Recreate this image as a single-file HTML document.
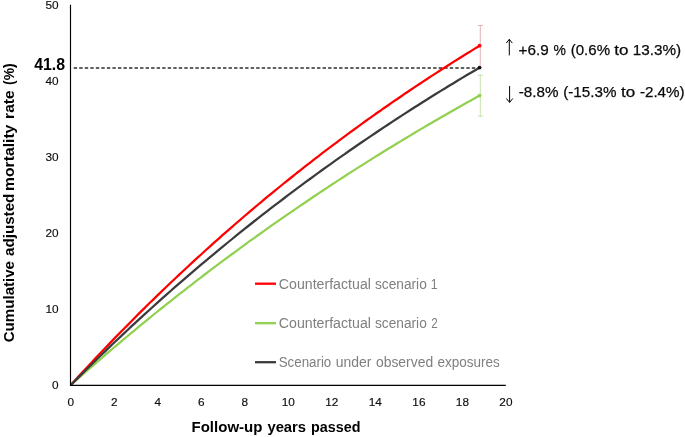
<!DOCTYPE html>
<html lang="en">
<head>
<meta charset="utf-8">
<title>Cumulative adjusted mortality rate</title>
<style>
html,body{margin:0;padding:0;background:#fff;}
body{width:685px;height:437px;overflow:hidden;}
svg{display:block;font-family:"Liberation Sans", sans-serif;}
</style>
</head>
<body>
<svg width="685" height="437" viewBox="0 0 685 437">
<rect width="685" height="437" fill="#fff"/>
<line x1="73.7" y1="68" x2="479.6" y2="68" stroke="#2e2e2e" stroke-width="1.3" stroke-dasharray="3.4 2.13"/>
<path d="M480.3 25.4 V65.7 M477.7 25.4 H482.9" stroke="#d9929c" stroke-width="0.7" fill="none"/>
<path d="M480.3 75.2 V116.2 M477.7 75.2 H482.9 M477.7 116.2 H482.9" stroke="#acd68a" stroke-width="0.7" fill="none"/>
<defs><clipPath id="plot"><rect x="70.5" y="0" width="420" height="385.3"/></clipPath></defs>
<g clip-path="url(#plot)">
<polyline points="70.5,385.3 74.9,381.4 79.2,377.6 83.6,373.7 87.9,369.9 92.3,366.1 96.6,362.4 101.0,358.6 105.3,354.9 109.7,351.2 114.0,347.5 118.4,343.8 122.7,340.1 127.1,336.5 131.4,332.9 135.8,329.3 140.1,325.7 144.5,322.1 148.8,318.6 153.2,315.0 157.5,311.5 161.9,308.0 166.2,304.5 170.6,301.1 174.9,297.6 179.3,294.2 183.7,290.8 188.0,287.4 192.4,284.1 196.7,280.7 201.1,277.4 205.4,274.0 209.8,270.7 214.1,267.4 218.5,264.2 222.8,260.9 227.2,257.7 231.5,254.5 235.9,251.3 240.2,248.1 244.6,244.9 248.9,241.7 253.3,238.6 257.6,235.5 262.0,232.4 266.3,229.3 270.7,226.2 275.0,223.1 279.4,220.1 283.7,217.1 288.1,214.1 292.5,211.1 296.8,208.1 301.2,205.1 305.5,202.2 309.9,199.2 314.2,196.3 318.6,193.4 322.9,190.5 327.3,187.6 331.6,184.7 336.0,181.9 340.3,179.1 344.7,176.2 349.0,173.4 353.4,170.6 357.7,167.9 362.1,165.1 366.4,162.4 370.8,159.6 375.1,156.9 379.5,154.2 383.8,151.5 388.2,148.8 392.5,146.2 396.9,143.5 401.3,140.9 405.6,138.2 410.0,135.6 414.3,133.0 418.7,130.4 423.0,127.9 427.4,125.3 431.7,122.8 436.1,120.2 440.4,117.7 444.8,115.2 449.1,112.7 453.5,110.2 457.8,107.7 462.2,105.3 466.5,102.8 470.9,100.4 475.2,98.0 479.6,95.6" fill="none" stroke="#92d050" stroke-width="2.25" stroke-linejoin="round" stroke-linecap="butt"/>
<polyline points="70.5,385.3 74.9,380.5 79.2,375.8 83.6,371.1 87.9,366.4 92.3,361.7 96.6,357.1 101.0,352.5 105.3,348.0 109.7,343.4 114.0,338.9 118.4,334.4 122.7,330.0 127.1,325.6 131.4,321.2 135.8,316.8 140.1,312.4 144.5,308.1 148.8,303.8 153.2,299.6 157.5,295.4 161.9,291.1 166.2,287.0 170.6,282.8 174.9,278.7 179.3,274.6 183.7,270.5 188.0,266.5 192.4,262.4 196.7,258.4 201.1,254.5 205.4,250.5 209.8,246.6 214.1,242.7 218.5,238.8 222.8,234.9 227.2,231.1 231.5,227.3 235.9,223.5 240.2,219.8 244.6,216.0 248.9,212.3 253.3,208.7 257.6,205.0 262.0,201.4 266.3,197.7 270.7,194.1 275.0,190.6 279.4,187.0 283.7,183.5 288.1,180.0 292.5,176.5 296.8,173.0 301.2,169.6 305.5,166.2 309.9,162.8 314.2,159.4 318.6,156.1 322.9,152.7 327.3,149.4 331.6,146.1 336.0,142.9 340.3,139.6 344.7,136.4 349.0,133.2 353.4,130.0 357.7,126.8 362.1,123.7 366.4,120.5 370.8,117.4 375.1,114.3 379.5,111.3 383.8,108.2 388.2,105.2 392.5,102.2 396.9,99.2 401.3,96.2 405.6,93.2 410.0,90.3 414.3,87.4 418.7,84.5 423.0,81.6 427.4,78.7 431.7,75.9 436.1,73.1 440.4,70.3 444.8,67.5 449.1,64.7 453.5,61.9 457.8,59.2 462.2,56.5 466.5,53.8 470.9,51.1 475.2,48.4 479.6,45.7" fill="none" stroke="#ff0000" stroke-width="2.25" stroke-linejoin="round" stroke-linecap="butt"/>
<polyline points="70.5,385.3 74.9,380.9 79.2,376.6 83.6,372.3 87.9,368.0 92.3,363.7 96.6,359.5 101.0,355.3 105.3,351.1 109.7,346.9 114.0,342.8 118.4,338.7 122.7,334.6 127.1,330.5 131.4,326.4 135.8,322.4 140.1,318.4 144.5,314.4 148.8,310.5 153.2,306.5 157.5,302.6 161.9,298.7 166.2,294.9 170.6,291.0 174.9,287.2 179.3,283.4 183.7,279.6 188.0,275.9 192.4,272.1 196.7,268.4 201.1,264.7 205.4,261.1 209.8,257.4 214.1,253.8 218.5,250.2 222.8,246.6 227.2,243.0 231.5,239.5 235.9,235.9 240.2,232.4 244.6,228.9 248.9,225.5 253.3,222.0 257.6,218.6 262.0,215.2 266.3,211.8 270.7,208.4 275.0,205.1 279.4,201.8 283.7,198.5 288.1,195.2 292.5,191.9 296.8,188.6 301.2,185.4 305.5,182.2 309.9,179.0 314.2,175.8 318.6,172.7 322.9,169.5 327.3,166.4 331.6,163.3 336.0,160.2 340.3,157.1 344.7,154.1 349.0,151.0 353.4,148.0 357.7,145.0 362.1,142.0 366.4,139.1 370.8,136.1 375.1,133.2 379.5,130.3 383.8,127.4 388.2,124.5 392.5,121.6 396.9,118.8 401.3,115.9 405.6,113.1 410.0,110.3 414.3,107.5 418.7,104.8 423.0,102.0 427.4,99.3 431.7,96.5 436.1,93.8 440.4,91.1 444.8,88.5 449.1,85.8 453.5,83.2 457.8,80.5 462.2,77.9 466.5,75.3 470.9,72.7 475.2,70.2 479.6,67.6" fill="none" stroke="#3b3b3b" stroke-width="2.25" stroke-linejoin="round" stroke-linecap="butt"/>
</g>
<circle cx="479.6" cy="45.7" r="1.9" fill="#ff0000"/>
<circle cx="479.6" cy="95.6" r="1.9" fill="#92d050"/>
<circle cx="479.6" cy="67.6" r="1.9" fill="#111"/>
<path d="M70.5 4.8 V385.35 H505.8" fill="none" stroke="#000" stroke-width="1.15"/>
<g font-size="11.8" fill="#0d0d0d" stroke="#0d0d0d" stroke-width="0.15" text-anchor="end">
<text x="58.5" y="389.3">0</text>
<text x="58.5" y="313.3">10</text>
<text x="58.5" y="237.3">20</text>
<text x="58.5" y="161.3">30</text>
<text x="58.5" y="85.3">40</text>
<text x="58.5" y="9.3">50</text>
</g>
<g font-size="11.8" fill="#0d0d0d" stroke="#0d0d0d" stroke-width="0.15" text-anchor="middle">
<text x="70.7" y="406.4">0</text>
<text x="114.2" y="406.4">2</text>
<text x="157.7" y="406.4">4</text>
<text x="201.3" y="406.4">6</text>
<text x="244.8" y="406.4">8</text>
<text x="288.3" y="406.4">10</text>
<text x="331.8" y="406.4">12</text>
<text x="375.3" y="406.4">14</text>
<text x="418.9" y="406.4">16</text>
<text x="462.4" y="406.4">18</text>
<text x="505.9" y="406.4">20</text>
</g>
<text y="69.5" font-size="15.6" fill="#000" font-weight="bold"><tspan x="34.20" textLength="30.92" lengthAdjust="spacingAndGlyphs">41.8</tspan></text>
<text y="431.8" font-size="14.6" fill="#000" font-weight="bold"><tspan x="191.50" textLength="70.96" lengthAdjust="spacingAndGlyphs">Follow-up</tspan> <tspan x="267.40" textLength="38.72" lengthAdjust="spacingAndGlyphs">years</tspan> <tspan x="311.05" textLength="49.45" lengthAdjust="spacingAndGlyphs">passed</tspan></text>
<text transform="translate(13.6 342.0) rotate(-90)" y="0" font-size="14.6" fill="#000" font-weight="bold"><tspan x="-0.30" textLength="81.32" lengthAdjust="spacingAndGlyphs">Cumulative</tspan> <tspan x="86.05" textLength="62.30" lengthAdjust="spacingAndGlyphs">adjusted</tspan> <tspan x="151.10" textLength="66.25" lengthAdjust="spacingAndGlyphs">mortality</tspan> <tspan x="223.10" textLength="28.52" lengthAdjust="spacingAndGlyphs">rate</tspan> <tspan x="257.10" textLength="21.57" lengthAdjust="spacingAndGlyphs">(%)</tspan></text>
<line x1="255" y1="283.7" x2="276" y2="283.7" stroke="#ff0000" stroke-width="2.3"/>
<text y="288.6" font-size="14" fill="#7f7f7f"><tspan x="278.80" textLength="92.11" lengthAdjust="spacingAndGlyphs">Counterfactual</tspan> <tspan x="375.00" textLength="51.79" lengthAdjust="spacingAndGlyphs">scenario</tspan> <tspan x="430.81" textLength="6.90" lengthAdjust="spacingAndGlyphs">1</tspan></text>
<line x1="255" y1="323.2" x2="276" y2="323.2" stroke="#92d050" stroke-width="2.3"/>
<text y="327.7" font-size="14" fill="#7f7f7f"><tspan x="278.80" textLength="92.11" lengthAdjust="spacingAndGlyphs">Counterfactual</tspan> <tspan x="375.00" textLength="51.79" lengthAdjust="spacingAndGlyphs">scenario</tspan> <tspan x="431.20" textLength="6.52" lengthAdjust="spacingAndGlyphs">2</tspan></text>
<line x1="255" y1="362.2" x2="276" y2="362.2" stroke="#3b3b3b" stroke-width="2.3"/>
<text y="366.6" font-size="14" fill="#7f7f7f"><tspan x="278.70" textLength="52.60" lengthAdjust="spacingAndGlyphs">Scenario</tspan> <tspan x="335.70" textLength="35.66" lengthAdjust="spacingAndGlyphs">under</tspan> <tspan x="375.90" textLength="57.28" lengthAdjust="spacingAndGlyphs">observed</tspan> <tspan x="437.45" textLength="62.25" lengthAdjust="spacingAndGlyphs">exposures</tspan></text>
<g stroke="#000" stroke-width="1" fill="none">
<path d="M509.3 55.4 V39.4 M506.3 43.1 L509.3 39.3 L512.3 43.1"/>
<path d="M509.6 86.1 V102.3 M506.4 98.5 L509.6 102.4 L512.8 98.5"/>
</g>
<text y="54.6" font-size="15.0" fill="#0a0a0a" stroke="#0a0a0a" stroke-width="0.25"><tspan x="518.60" textLength="30.20" lengthAdjust="spacingAndGlyphs">+6.9</tspan> <tspan x="553.60" textLength="12.41" lengthAdjust="spacingAndGlyphs">%</tspan> <tspan x="570.70" textLength="39.34" lengthAdjust="spacingAndGlyphs">(0.6%</tspan> <tspan x="614.20" textLength="14.19" lengthAdjust="spacingAndGlyphs">to</tspan> <tspan x="632.78" textLength="48.31" lengthAdjust="spacingAndGlyphs">13.3%)</tspan></text>
<text y="96.6" font-size="15.0" fill="#0a0a0a" stroke="#0a0a0a" stroke-width="0.25"><tspan x="518.75" textLength="39.69" lengthAdjust="spacingAndGlyphs">-8.8%</tspan> <tspan x="563.20" textLength="53.24" lengthAdjust="spacingAndGlyphs">(-15.3%</tspan> <tspan x="621.00" textLength="14.19" lengthAdjust="spacingAndGlyphs">to</tspan> <tspan x="639.90" textLength="44.70" lengthAdjust="spacingAndGlyphs">-2.4%)</tspan></text>
</svg>
</body>
</html>
